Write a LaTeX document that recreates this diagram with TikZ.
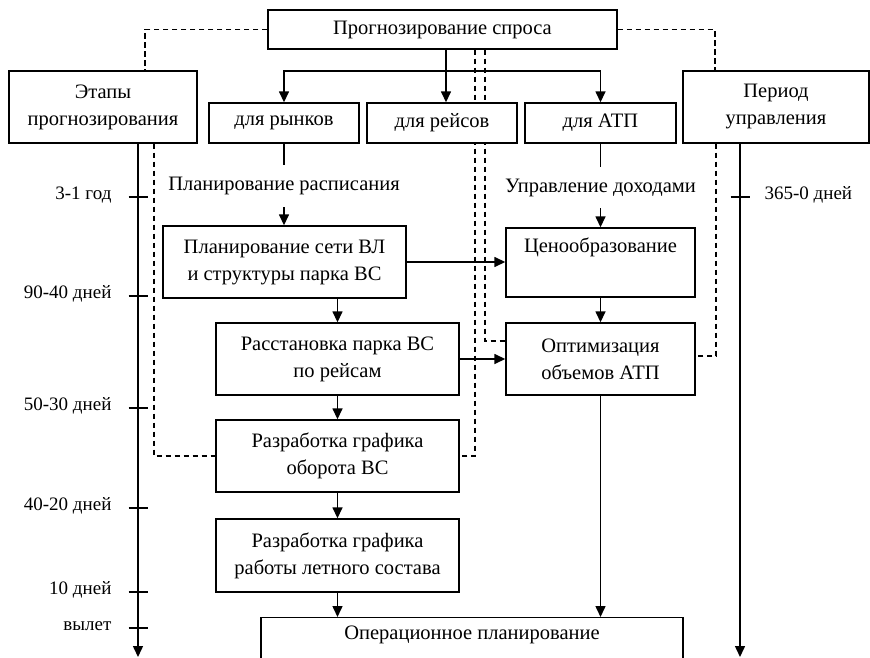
\documentclass[tikz,border=0pt]{standalone}
\usepackage{fontspec}
\setmainfont{Liberation Serif}
\usetikzlibrary{arrows.meta,backgrounds}
\tikzset{
  blok/.style={draw,line width=1.4pt,fill=white,align=center,inner sep=0pt,font=\fontsize{20.5}{27}\selectfont},
  metka/.style={align=center,inner sep=0pt,font=\fontsize{20.5}{27}\selectfont},
  liniya/.style={line width=1.5pt},
  strel/.style={line width=1.5pt,-{Triangle[length=11pt,width=10pt]}},
  punktir/.style={line width=1.1pt,dash pattern=on 5.5pt off 3.5pt},
}
\begin{document}
\begin{tikzpicture}[x=1pt,y=-1pt]
	\useasboundingbox (0,0) rectangle (870,658);
	\clip (0,0) rectangle (870,658);
	\def \xaxL {138};
	\def \xaxR {740};
	% верхний уровень
	\node[blok,minimum width=349,minimum height=39] (prog) at (442.5,29.5) {Прогнозирование спроса};
	\node[blok,minimum width=188,minimum height=72] (etapy) at (103,107) {Этапы\\прогнозирования};
	\node[blok,minimum width=186,minimum height=72] (period) at (776,107) {Период\\управления};
	\node[blok,minimum width=150,minimum height=40] (rynki) at (284,123) {для рынков};
	\node[blok,minimum width=150,minimum height=40] (reisy) at (442,123) {для рейсов};
	\node[blok,minimum width=151,minimum height=40] (atp) at (600.5,123) {для АТП};
	\node[metka,minimum height=42] (raspis) at (284,186) {Планирование расписания};
	\node[metka,minimum height=41] (dohody) at (600.5,187.5) {Управление доходами};
	% блоки планирования
	\node[blok,minimum width=243,minimum height=72] (set) at (284.5,262) {Планирование сети ВЛ\\и структуры парка ВС};
	\node[blok,minimum width=189,minimum height=69] (ceny) at (600.5,262.5) {Ценообразование\\\strut};
	\node[blok,minimum width=243,minimum height=72] (rasst) at (337.5,359) {Расстановка парка ВС\\по рейсам};
	\node[blok,minimum width=189,minimum height=72] (optim) at (600.5,359) {Оптимизация\\объемов АТП};
	\node[blok,minimum width=243,minimum height=72] (oborot) at (337.5,456) {Разработка графика\\оборота ВС};
	\node[blok,minimum width=243,minimum height=73] (ekipazh) at (337.5,555.5) {Разработка графика\\работы летного состава};
	\node[blok,minimum width=422,minimum height=66,anchor=north] (oper) at (472,617) {Операционное планирование\\\strut};
	% оси времени
	\coordinate (nizL) at (\xaxL,657);
	\coordinate (nizR) at (\xaxR,657);
	\draw[strel] (etapy.south -| nizL) -- (nizL);
	\draw[strel] (period.south -| nizR) -- (nizR);
	\foreach \y/\t in {197/3-1 год,296/90-40 дней,408/50-30 дней,508/40-20 дней,592/10 дней,628/вылет}
	\draw[liniya] (\xaxL-9.5,\y) -- (\xaxL+9.5,\y) node[pos=0,left=13pt,yshift=2pt,font=\fontsize{19}{23}\selectfont] {\t};
	\draw[liniya] (\xaxR-9.5,197) -- (\xaxR+9.5,197) node[pos=1,right=11pt,yshift=2pt,font=\fontsize{19}{23}\selectfont] {365-0 дней};
	% стрелки
	\coordinate (uzel) at (446,71);
	\draw[strel] (prog.south -| uzel) -- (reisy.north -| uzel);
	\draw[strel] (uzel) -| (rynki.north);
	\draw[strel] (uzel) -| (atp.north);
	\draw[liniya] (rynki.south) -- (raspis.north);
	\draw[strel] (raspis.south) -- (raspis.south |- set.north);
	\draw[liniya] (atp.south) -- (dohody.north);
	\draw[strel] (dohody.south) -- (ceny.north);
	\draw[strel] (set.east) -- (set.east -| ceny.west);
	\draw[strel] (ceny.south) -- (optim.north);
	\draw[strel] (rasst.north |- set.south) -- (rasst.north);
	\draw[strel] (rasst.east) -- (rasst.east -| optim.west);
	\draw[strel] (rasst.south) -- (oborot.north);
	\draw[strel] (oborot.south) -- (ekipazh.north);
	\draw[strel] (ekipazh.south) -- (ekipazh.south |- oper.north);
	\draw[strel] (optim.south) -- (optim.south |- oper.north);
	% пунктирные связи
	\coordinate (pL) at (145,30);
	\coordinate (pL2) at (154,458);
	\coordinate (pR) at (715,30);
	\coordinate (pR2) at (716,356);
	\coordinate (pA) at (475,49);
	\coordinate (pB) at (485,49);
	\begin{scope}[on background layer]
	\draw[punktir] (prog.west) -| (etapy.north -| pL);
	\draw[punktir] (prog.east) -| (period.north -| pR);
	\draw[punktir] (etapy.south -| pL2) |- (oborot.west);
	\draw[punktir] (period.south -| pR2) |- ([yshift=3pt]optim.east);
	\draw[punktir] (prog.south -| pA) |- (oborot.east);
	\draw[punktir] (prog.south -| pB) |- ([yshift=18pt]optim.west);
	\end{scope}
\end{tikzpicture}
\end{document}
